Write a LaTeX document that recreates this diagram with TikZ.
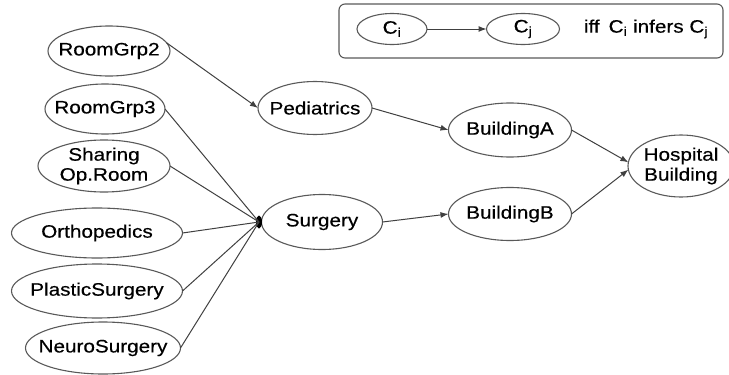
\documentclass[tikz,border=0pt]{standalone}
\usepackage{fontspec}
\setmainfont{Liberation Sans}[FakeStretch=1.15,FakeBold=0.4]
\usetikzlibrary{shapes.geometric,arrows.meta}
\begin{document}
\begin{tikzpicture}[x=1pt,y=-1pt,
  ell/.style 2 args={ellipse,draw=black!65,line width=1.1pt,inner sep=0pt,outer sep=0pt,
     minimum width=#1,minimum height=#2},
  lbl/.style={align=center,inner sep=0pt,font=\fontsize{18}{20}\selectfont},
  conn/.style={draw=black!75,line width=1pt},
  arr/.style={conn,-{Latex[length=8pt,width=6pt]}}]
\useasboundingbox (0,0) rectangle (729,375);
% legend
\node[draw=black!65,line width=1.1pt,rounded corners=6pt,minimum width=384,minimum height=54,inner sep=0pt] (legend) at (531,31) {};
\node[ell={70}{31},label={[lbl]center:C\textsubscript{i}}] (ci) at (392,29) {};
\node[ell={73}{31},label={[lbl]center:C\textsubscript{j}}] (cj) at (523,29) {};
\node[lbl] (ifft) at (646,29) {iff\enspace C\textsubscript{i} infers C\textsubscript{j}};
\draw[arr] (ci) -- (cj);
% nodes
\node[ell={122}{50},label={[lbl]center:RoomGrp2}] (rg2) at (109,51) {};
\node[ell={120}{50},label={[lbl]center:RoomGrp3}] (rg3) at (105,109) {};
\node[ell={132}{52},label={[lbl]center:Sharing\\Op.Room}] (sor) at (104,166) {};
\node[ell={171}{50},label={[lbl]center:Orthopedics}] (ort) at (97,233) {};
\node[ell={171}{54},label={[lbl]center:PlasticSurgery}] (pls) at (97,291) {};
\node[ell={155}{52},label={[lbl]center:NeuroSurgery}] (neu) at (103,348) {};
\node[ell={114}{53},label={[lbl]center:Pediatrics}] (ped) at (315,108) {};
\node[ell={121}{55},label={[lbl]center:Surgery}] (sur) at (322,222) {};
\node[ell={123}{54},label={[lbl]center:BuildingA}] (ba) at (510,130) {};
\node[ell={123}{53},label={[lbl]center:BuildingB}] (bb) at (510,214) {};
\node[ell={106}{62},label={[lbl]center:Hospital\\Building}] (hb) at (681,166) {};
% junction
\node[ellipse,fill=black,minimum width=6,minimum height=13,inner sep=0pt] (dot) at (259,222) {};
% edges
\draw[arr] (rg2.8) -- (ped.west);
\foreach \n in {rg3,sor,ort,pls,neu} \draw[conn] (\n.east) -- (dot.center);
\draw[arr] (ped.east) -- (ba.west);
\draw[arr] (sur.east) -- (bb.west);
\draw[arr] (ba.east) -- (hb.176);
\draw[arr] (bb.east) -- (hb.184);
\end{tikzpicture}
\end{document}
